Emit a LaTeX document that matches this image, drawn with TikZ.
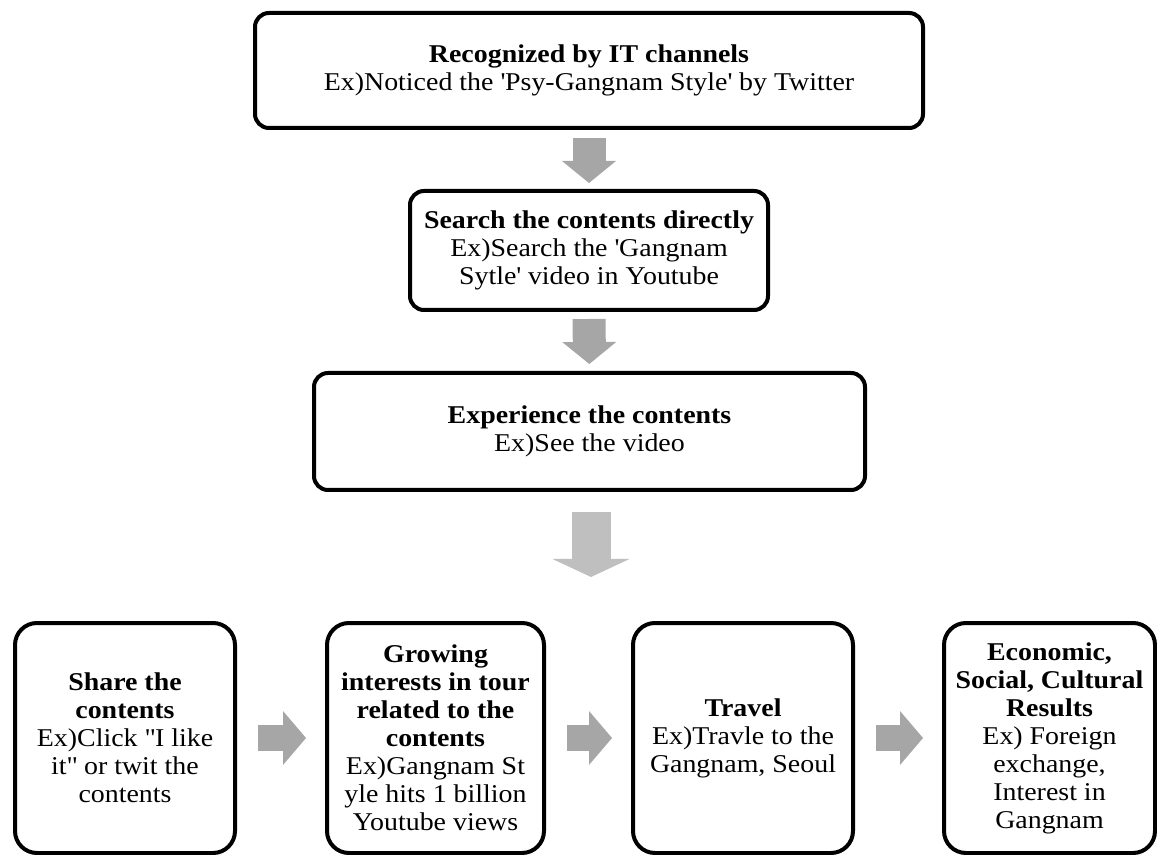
\documentclass[tikz,border=0pt]{standalone}
\usepackage{fontspec}
\setmainfont{Liberation Serif}[FakeStretch=1.09]
\usetikzlibrary{arrows.meta,positioning}

\definecolor{arrowgray}{HTML}{A6A6A6}
\definecolor{lightgray}{HTML}{BFBFBF}

\tikzset{
  stagebox/.style={draw, line width=2pt, rounded corners=7pt, align=center,
    inner sep=2pt, font=\fontsize{12.8}{14}\selectfont},
  tallbox/.style={stagebox, rounded corners=11pt, minimum height=115pt},
  downarrow/.style={arrowgray, line width=16.5pt,
    -{Triangle[length=11pt,width=27pt,line width=0pt]}},
  bigdown/.style={lightgray, line width=19.5pt,
    -{Triangle[length=9pt,width=38.5pt,line width=0pt]}},
  sidearrow/.style={arrowgray, line width=13pt,
    -{Triangle[length=11.5pt,width=27pt,line width=0pt]},
    shorten <=10.5pt, shorten >=9.5pt}
}

\begin{document}
\begin{tikzpicture}[x=0.5pt,y=-0.5pt]
  \useasboundingbox (0,0) rectangle (1157,855);

  % chain from top to bottom
  \node[stagebox, minimum width=334pt, minimum height=57.5pt] (noticed) at (589,70.5)
    {\textbf{Recognized by IT channels}\\Ex)Noticed the \textquotesingle Psy-Gangnam Style\textquotesingle{} by Twitter};
  \node[stagebox, minimum width=179pt, minimum height=59.5pt] (search) at (589,250.5)
    {\textbf{Search the contents directly}\\Ex)Search the \textquotesingle Gangnam\\Sytle\textquotesingle{} video in Youtube};
  \node[stagebox, minimum width=275.5pt, minimum height=58.5pt] (experience) at (589.5,431.5)
    {\textbf{Experience the contents}\\Ex)See the video};
  \coordinate (spread) at (591,577);

  % bottom row
  \node[tallbox, minimum width=110pt] (share) at (125,738)
    {\textbf{Share the}\\\textbf{contents}\\Ex)Click \textquotedbl I like\\it\textquotedbl{} or twit the\\contents};
  \node[tallbox, minimum width=108.5pt] (growing) at (435.5,738)
    {\textbf{Growing}\\\textbf{interests in tour}\\\textbf{related to the}\\\textbf{contents}\\Ex)Gangnam St\\yle hits 1 billion\\Youtube views};
  \node[tallbox, minimum width=110pt] (travel) at (743,738)
    {\textbf{Travel}\\Ex)Travle to the\\Gangnam, Seoul};
  \node[tallbox, minimum width=105.5pt] (results) at (1049.5,738)
    {\textbf{Economic,}\\\textbf{Social, Cultural}\\\textbf{Results}\\Ex) Foreign\\exchange,\\Interest in\\Gangnam};

  \draw[downarrow, shorten <=4pt, shorten >=3pt] (noticed) -- (search);
  \draw[downarrow, shorten <=3.5pt, shorten >=3.5pt] (search) -- (experience);
  \draw[bigdown, shorten <=10pt] (experience.south -| spread) -- (spread);
  \foreach \from/\to in {share/growing, growing/travel, travel/results}
    \draw[sidearrow] (\from) -- (\to);
\end{tikzpicture}
\end{document}
